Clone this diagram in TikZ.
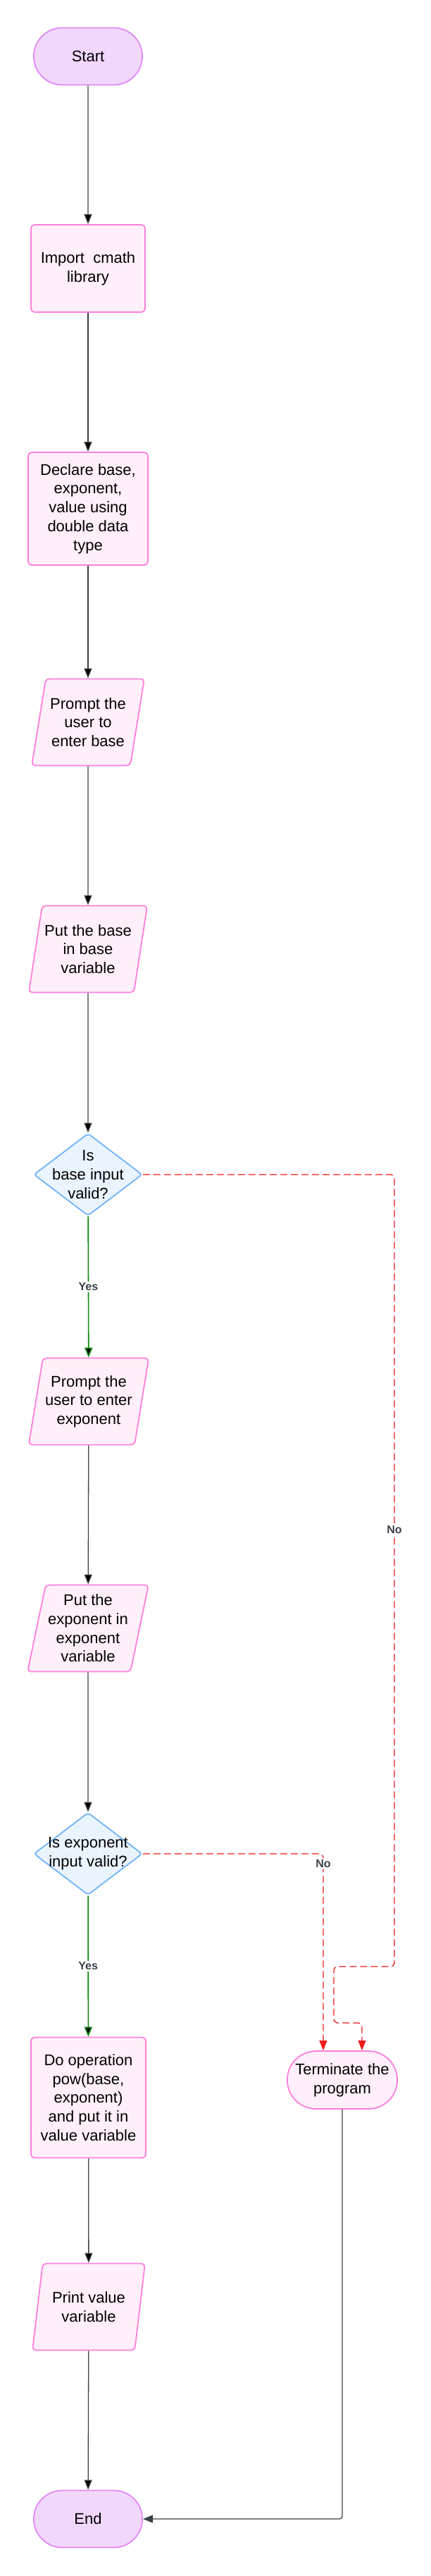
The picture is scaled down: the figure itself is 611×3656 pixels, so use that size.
\documentclass[tikz,border=0pt]{standalone}
\usepackage{fontspec}
\setmainfont{Liberation Sans}
\usetikzlibrary{arrows.meta, shapes.geometric, shapes.misc}
\usepackage{xcolor}

\definecolor{termfill}{HTML}{F2D7FD}
\definecolor{termline}{HTML}{E08AF6}
\definecolor{procfill}{HTML}{FFEFFA}
\definecolor{procline}{HTML}{FF7FDC}
\definecolor{decfill}{HTML}{EAF4FF}
\definecolor{decline}{HTML}{73B3FA}
\definecolor{flowc}{HTML}{3B3F46}
\definecolor{yesgreen}{HTML}{078A07}
\definecolor{nored}{HTML}{EE1C1C}
\definecolor{lblc}{HTML}{3B414A}

\begin{document}
\begin{tikzpicture}[x=1pt,y=-1pt]
                \tikzset{Terminal/.style={rounded rectangle, line width=1.8pt, draw=termline, fill=termfill, minimum width=161pt, minimum height=81pt, align=center, font=\fontsize{22}{26.7}\selectfont}}
                \tikzset{Process/.style={rectangle, rounded corners=5pt, line width=1.8pt, draw=procline, fill=procfill, minimum width=162pt, minimum height=124pt, align=center, font=\fontsize{22}{26.7}\selectfont}}
                \tikzset{InOut/.style={trapezium, trapezium left angle=76, trapezium right angle=104, trapezium stretches=true, rounded corners=5pt, line width=1.8pt, draw=procline, fill=procfill, minimum width=160pt, minimum height=123pt, align=center, font=\fontsize{22}{26.7}\selectfont}}
                \tikzset{Decision/.style={diamond, rounded corners=4pt, line width=1.8pt, draw=decline, fill=decfill, minimum width=154pt, minimum height=117pt, inner sep=0pt}}
                \tikzset{DecText/.style={align=center, font=\fontsize{22}{26.7}\selectfont}}
                \tikzset{Flow/.style={-{Triangle[length=14pt,width=11pt]}, draw=flowc, line width=1.3pt}}
                \tikzset{YesFlow/.style={-{Triangle[length=14pt,width=11pt]}, draw=yesgreen, line width=1.6pt}}
                \tikzset{NoFlow/.style={-{Triangle[length=14pt,width=11pt]}, draw=nored, line width=1.3pt, dash pattern=on 10pt off 5pt, rounded corners=5pt}}
                \tikzset{Lbl/.style={fill=white, inner sep=2pt, text=lblc, font=\bfseries\fontsize{16}{19}\selectfont}}

                \fill[white] (0,0) rectangle (611,3656);
                \useasboundingbox (0,0) rectangle (611,3656);

                \node[Terminal](Start) at (125,80) {Start};
                \node[Process](Import) at (125,381) {Import\ \ cmath\\library};
                \node[Process, minimum width=170pt, minimum height=160pt](Declare) at (125,722) {Declare base,\\exponent,\\value using\\double data\\type};
                \node[InOut](AskBase) at (125,1025) {Prompt the\\user to\\enter base};
                \node[InOut](PutBase) at (125,1347) {Put the base\\in base\\variable};
                \node[Decision, label={[DecText]center:{Is\\base input\\valid?}}](CheckBase) at (125,1667) {};
                \node[InOut](AskExp) at (126,1989) {Prompt the\\user to enter\\exponent};
                \node[InOut](PutExp) at (125,2311) {Put the\\exponent in\\exponent\\variable};
                \node[Decision, label={[DecText]center:{Is exponent\\input valid?}}](CheckExp) at (125,2631) {};
                \node[Process, minimum width=163pt, minimum height=171pt](Power) at (125.5,2977) {Do operation\\pow(base,\\exponent)\\and put it in\\value variable};
                \node[Terminal, draw=procline, fill=procfill, minimum width=163pt, minimum height=82pt](Quit) at (486,2952) {Terminate the\\program};
                \node[InOut](Print) at (126,3274) {Print value\\variable};
                \node[Terminal](End) at (125,3575) {End};

                \coordinate (JogA) at (560,2791);
                \coordinate (JogB) at (474,2871);

                \draw[Flow]
                    (Start) edge (Import)
                    (Import) edge (Declare)
                    (Declare) edge (AskBase)
                    (AskBase) edge (PutBase)
                    (PutBase) edge (CheckBase)
                    (AskExp) edge (PutExp)
                    (PutExp) edge (CheckExp)
                    (Power) edge (Print)
                    (Print) edge (End)
                ;

                \draw[YesFlow]
                    (CheckBase) edge node[Lbl]{Yes} (AskExp)
                    (CheckExp) edge node[Lbl]{Yes} (Power)
                ;

                \draw[NoFlow] (CheckBase.east) -| node[Lbl, pos=0.724]{No} (JogA) -| (JogB) -| ([xshift=28pt]Quit.north);
                \draw[NoFlow] (CheckExp.east) -| node[Lbl, pos=0.525]{No} ([xshift=-27pt]Quit.north);

                \draw[Flow, rounded corners=4pt] (Quit.south) |- (End.east);
            \end{tikzpicture}
\end{document}
